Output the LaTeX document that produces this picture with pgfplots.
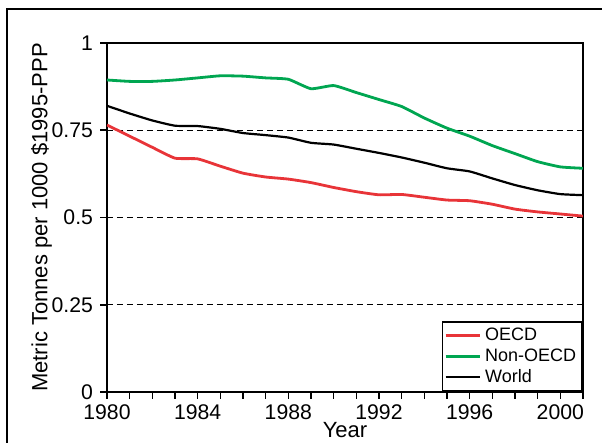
\documentclass[border=0pt]{standalone}
\usepackage{pgfplots}
\pgfplotsset{compat=1.18}
\usepackage{fontspec}
\setmainfont{Liberation Sans}
\definecolor{oecdred}{RGB}{232,52,56}
\definecolor{nongreen}{RGB}{0,166,81}
\begin{document}
\begin{tikzpicture}
\begin{axis}[
  at={(0,0)}, anchor=south west,
  width=238pt, height=174.5pt, scale only axis,
  xmin=1980, xmax=2001, ymin=0, ymax=1,
  axis line style={line width=0.9pt},
  xtick={1980,1984,...,2000},
  minor xtick={1981,1982,1983,1985,1986,1987,1989,1990,1991,1993,1994,1995,1997,1998,1999,2001},
  ytick={0,0.25,0.5,0.75,1},
  yticklabels={0,0.25,0.5,0.75,1},
  tick align=outside, tick pos=left,
  major tick length=3.5pt, minor tick length=3.5pt,
  every tick/.style={black, line width=0.8pt},
  /pgf/number format/1000 sep={},
  /pgf/number format/assume math mode=true,
  tick label style={font=\fontsize{10.6}{12}\selectfont},
  xticklabel style={yshift=0.5pt},
  xlabel={Year}, ylabel={Metric Tonnes per 1000 \$1995-PPP},
  label style={font=\fontsize{11}{12}\selectfont},
  xlabel style={inner sep=0pt, yshift=2.6pt},
  ylabel style={yshift=-7pt},
  legend style={at={(rel axis cs:1,0)}, anchor=south east, draw=black, line width=0.8pt,
    font=\fontsize{9}{9}\selectfont, inner sep=1pt, row sep=-1.5pt,
    legend cell align=left},
  legend image post style={line width=1.3pt},
]
\addplot[black, dash pattern=on 3pt off 2pt, line width=0.6pt, forget plot] coordinates {(1980,0.25) (2001,0.25)};
\addplot[black, dash pattern=on 3pt off 2pt, line width=0.6pt, forget plot] coordinates {(1980,0.5) (2001,0.5)};
\addplot[black, dash pattern=on 3pt off 2pt, line width=0.6pt, forget plot] coordinates {(1980,0.75) (2001,0.75)};
\addplot[oecdred, line width=1.4pt, smooth, tension=0.3] coordinates {
(1980,0.765) (1981,0.733) (1982,0.701) (1983,0.670) (1984,0.668) (1985,0.647)
(1986,0.627) (1987,0.616) (1988,0.610) (1989,0.600) (1990,0.586) (1991,0.574)
(1992,0.565) (1993,0.566) (1994,0.558) (1995,0.550) (1996,0.548) (1997,0.538)
(1998,0.524) (1999,0.516) (2000,0.510) (2001,0.504)};
\addlegendentry{OECD}
\addplot[nongreen, line width=1.4pt, smooth, tension=0.3] coordinates {
(1980,0.894) (1981,0.890) (1982,0.890) (1983,0.894) (1984,0.900) (1985,0.906)
(1986,0.905) (1987,0.900) (1988,0.896) (1989,0.869) (1990,0.878) (1991,0.858)
(1992,0.838) (1993,0.818) (1994,0.785) (1995,0.756) (1996,0.733) (1997,0.706)
(1998,0.683) (1999,0.660) (2000,0.645) (2001,0.641)};
\addlegendentry{Non-OECD}
\addplot[black, line width=1.1pt, smooth, tension=0.3] coordinates {
(1980,0.820) (1981,0.798) (1982,0.778) (1983,0.763) (1984,0.762) (1985,0.754)
(1986,0.742) (1987,0.736) (1988,0.729) (1989,0.714) (1990,0.709) (1991,0.697)
(1992,0.685) (1993,0.672) (1994,0.657) (1995,0.641) (1996,0.632) (1997,0.612)
(1998,0.593) (1999,0.578) (2000,0.567) (2001,0.564)};
\addlegendentry{World}
\end{axis}
\draw[line width=0.6pt] (-50pt,-40pt) -- (-50pt,191.5pt) -- (260pt,191.5pt);
\pgfresetboundingbox
\useasboundingbox (-53.5pt,-25.5pt) rectangle (247.5pt,196pt);
\end{tikzpicture}
\end{document}
